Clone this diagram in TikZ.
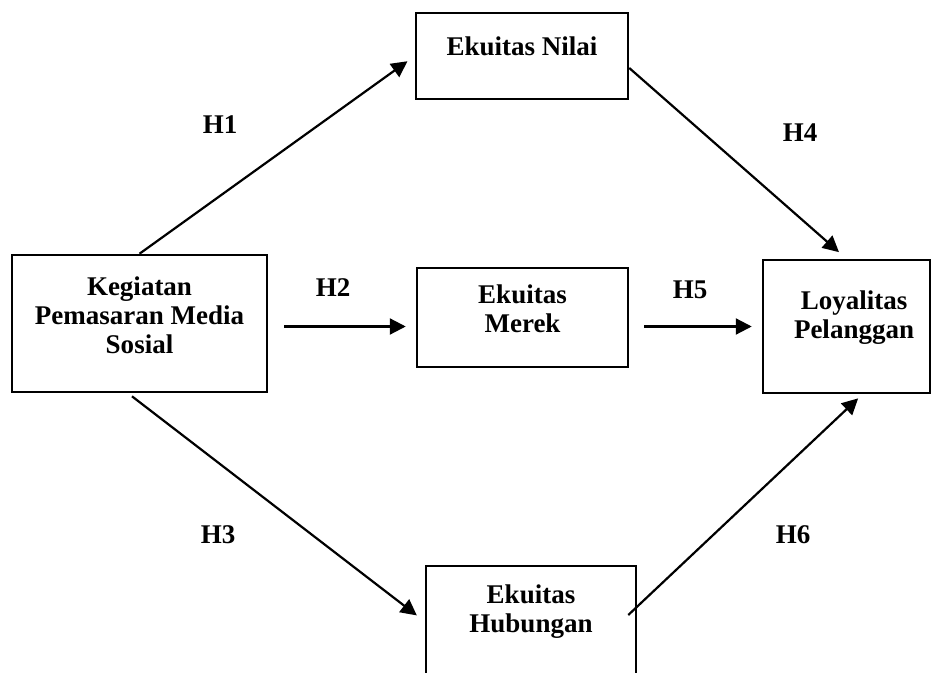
\documentclass[tikz,border=0pt]{standalone}
\usepackage{fontspec}
\setmainfont{Liberation Serif}
\usetikzlibrary{arrows.meta}

\begin{document}
\begin{tikzpicture}[x=0.5pt, y=-0.5pt,
    font=\fontsize{13.5}{14.5}\selectfont\bfseries,
    kotak/.style={draw, rectangle, line width=1.25pt, inner sep=0pt},
    isi/.style={align=center},
    panah/.style={-{Triangle[length=8pt,width=8pt]}, line width=1.1pt}]
  \useasboundingbox (0,0) rectangle (935,673);

  % kotak variabel
  \node[kotak, minimum width=127.5pt, minimum height=68.5pt,
        label={[isi, name=kmsteks, yshift=4.25pt]center:{Kegiatan\\Pemasaran Media\\Sosial}}] (kms) at (139.5,323.5) {};
  \node[kotak, minimum width=106pt, minimum height=43pt,
        label={[isi, name=nilaiteks, yshift=5pt]center:{Ekuitas Nilai}}] (nilai) at (522,56) {};
  \node[kotak, minimum width=105.5pt, minimum height=49.5pt,
        label={[isi, name=merekteks, yshift=4.25pt]center:{Ekuitas\\Merek}}] (merek) at (522.5,317.5) {};
  \node[kotak, minimum width=83.5pt, minimum height=66.5pt,
        label={[isi, name=loyteks, xshift=3.75pt, yshift=4.25pt]center:{Loyalitas\\Pelanggan}}] (loy) at (846.5,326.5) {};
  \node[kotak, minimum width=105pt, minimum height=67pt,
        label={[isi, name=hubteks, yshift=10.5pt]center:{Ekuitas\\Hubungan}}] (hub) at (531,633) {};

  % hipotesis
  \node (h1) at (220,125) {H1};
  \node (h2) at (333,288) {H2};
  \node (h3) at (218,535) {H3};
  \node (h4) at (800,133) {H4};
  \node (h5) at (690,290) {H5};
  \node (h6) at (793,535) {H6};

  \draw[panah, shorten >=4.5pt] (kms.north) -- (nilai.west);
  \draw[panah, shorten <=8pt, shorten >=5pt] (loy.west -| kms.east) -- (loy.west -| merek.west);
  \draw[panah, shorten <=2.5pt, shorten >=5pt] ([xshift=-5.75pt]kms.south) -- ([yshift=5.75pt]hub.west);
  \draw[panah, shorten >=5pt] ([yshift=-6pt]nilai.east) -- (loy.north);
  \draw[panah, shorten <=7.5pt, shorten >=5pt] (loy.west -| merek.east) -- (loy.west);
  \draw[panah, shorten >=3pt] ([xshift=-4.5pt,yshift=9pt]hub.east) -- ([xshift=8pt]loy.south);
\end{tikzpicture}
\end{document}
